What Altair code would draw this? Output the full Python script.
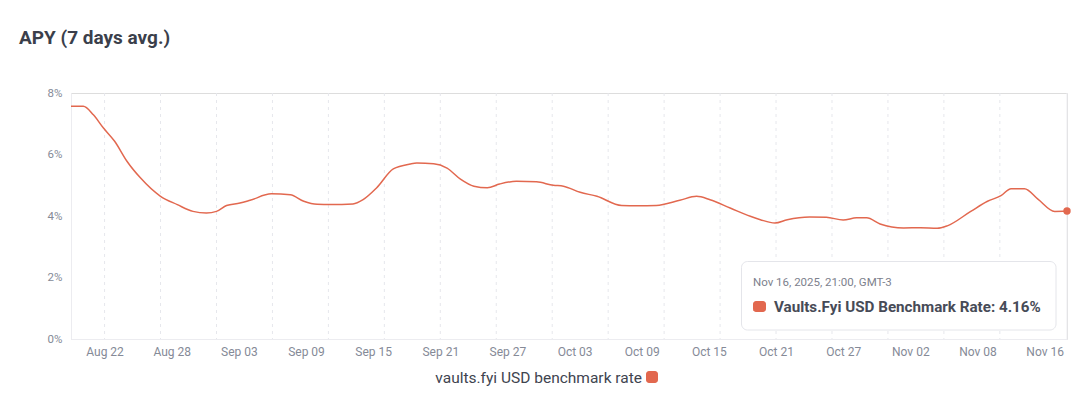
import altair as alt
import pandas as pd

# ---- data ----
# x = days since Aug 19, 2025 ; y = APY in %
days = [0, 1.1, 2.0, 2.9, 3.9, 5.0, 6.2, 8.0, 9.5, 10.9, 12.1, 13.0, 13.9, 15.1,
        16.0, 17.9, 19.6, 20.8, 22.0, 23.2, 25.2, 26.1, 27.3, 28.8, 30.3, 30.9,
        32.4, 33.6, 34.8, 36.0, 37.2, 38.3, 39.8, 41.6, 43.1, 44.0, 45.5, 47.0,
        49.2, 50.6, 52.3, 54.4, 55.9, 57.1, 58.9, 60.7, 61.6, 62.9, 64.0, 66.0,
        67.5, 69.0, 70.2, 71.1, 72.3, 74.4, 75.9, 77.4, 78.3, 80.4, 81.9, 83.1,
        84.0, 85.2, 86.4, 87.9, 89.0]
apy = [7.57, 7.57, 7.29, 6.86, 6.43, 5.78, 5.24, 4.64, 4.37, 4.15, 4.10, 4.15, 4.34, 4.42,
       4.51, 4.72, 4.69, 4.48, 4.38, 4.37, 4.39, 4.53, 4.91, 5.53, 5.69, 5.72,
       5.70, 5.56, 5.20, 4.97, 4.92, 5.04, 5.13, 5.11, 5.00, 4.97, 4.77, 4.64,
       4.34, 4.33, 4.34, 4.51, 4.64, 4.53, 4.26, 3.99, 3.88, 3.77, 3.88, 3.97,
       3.96, 3.87, 3.94, 3.94, 3.74, 3.61, 3.62, 3.60, 3.68, 4.15, 4.48, 4.66,
       4.89, 4.89, 4.55, 4.15, 4.16]
assert len(days) == len(apy)

tick_days = [3, 9, 15, 21, 27, 33, 39, 45, 51, 57, 63, 69, 75, 81, 87]
tick_labels = ["Aug 22", "Aug 28", "Sep 03", "Sep 09", "Sep 15", "Sep 21", "Sep 27",
               "Oct 03", "Oct 09", "Oct 15", "Oct 21", "Oct 27", "Nov 02", "Nov 08", "Nov 16"]
grid_days = [3, 8, 13, 18, 23, 28, 33, 38, 43, 48, 53, 58, 63, 68, 73, 78, 83]
y_ticks = [0, 2, 4, 6, 8]

title_text = "APY (7 days avg.)"
series_name = "vaults.fyi USD benchmark rate"
tooltip_date = "Nov 16, 2025, 21:00, GMT-3"
tooltip_label = "Vaults.Fyi USD Benchmark Rate: 4.16%"

LINE = "#e2684f"
FONT = "Roboto"
W, H = 996, 246

df = pd.DataFrame({"day": days, "apy": apy})
grid_df = pd.DataFrame({"day": grid_days})
last_df = df.tail(1)
one = pd.DataFrame({"k": [0]})

label_expr = "".join(
    f"datum.value == {d} ? '{l}' : " for d, l in zip(tick_days, tick_labels)
) + "''"

xscale = alt.Scale(domain=[0, 89], nice=False, zero=False)
yscale = alt.Scale(domain=[0, 8], nice=False)

grid = alt.Chart(grid_df).mark_rule(color="#e6e7ec", strokeDash=[3, 4], strokeWidth=1).encode(
    x=alt.X("day:Q", scale=xscale)
)

line = alt.Chart(df).mark_line(color=LINE, strokeWidth=1.5, interpolate="monotone").encode(
    x=alt.X("day:Q", scale=xscale,
            axis=alt.Axis(values=tick_days, labelExpr=label_expr, title=None, grid=False,
                          ticks=False, labelPadding=7, labelFontSize=12,
                          labelColor="#858a97", labelFont=FONT, domainColor="#ececf0")),
    y=alt.Y("apy:Q", scale=yscale,
            axis=alt.Axis(values=y_ticks, labelExpr="datum.value + '%'", title=None, grid=False,
                          ticks=False, labelPadding=9, labelFontSize=11.5,
                          labelColor="#858a97", labelFont=FONT, domainColor="#ececf0")),
)

right_edge = alt.Chart(one).mark_rule(color="#ececf0").encode(
    x=alt.value(W), y=alt.value(0), y2=alt.value(H)
)

end_dot = alt.Chart(last_df).mark_circle(color=LINE, size=55, opacity=1).encode(
    x=alt.X("day:Q", scale=xscale), y=alt.Y("apy:Q", scale=yscale)
)

title = alt.Chart(one).mark_text(
    text=title_text, align="left", baseline="alphabetic", font=FONT,
    fontSize=19, fontWeight="bold", color="#3b3f4b"
).encode(x=alt.value(-52), y=alt.value(-49))

tip_box = alt.Chart(one).mark_rect(
    fill="white", stroke="#e4e5ea", strokeWidth=1, cornerRadius=6
).encode(x=alt.value(670.5), x2=alt.value(985), y=alt.value(168.5), y2=alt.value(237))

tip_date = alt.Chart(one).mark_text(
    text=tooltip_date, align="left", baseline="middle", font=FONT,
    fontSize=11.5, color="#7d818d"
).encode(x=alt.value(682), y=alt.value(190))

tip_sq = alt.Chart(one).mark_rect(fill=LINE, cornerRadius=3).encode(
    x=alt.value(682), x2=alt.value(695), y=alt.value(208), y2=alt.value(219)
)

tip_text = alt.Chart(one).mark_text(
    text=tooltip_label, align="left", baseline="middle", font=FONT,
    fontSize=15.2, fontWeight="bold", color="#474b57"
).encode(x=alt.value(703), y=alt.value(214))

leg_text = alt.Chart(one).mark_text(
    text=series_name, align="right", baseline="alphabetic", font=FONT,
    fontSize=15.5, color="#40444f"
).encode(x=alt.value(571), y=alt.value(290))

leg_sq = alt.Chart(one).mark_rect(fill=LINE, cornerRadius=3).encode(
    x=alt.value(575), x2=alt.value(587), y=alt.value(278), y2=alt.value(290)
)

chart = alt.layer(
    grid, right_edge, line, end_dot, title, tip_box, tip_date, tip_sq, tip_text, leg_text, leg_sq
).properties(
    width=W, height=H,
    autosize=alt.AutoSizeParams(type="none"),
    padding={"left": 63, "top": 85, "right": 9, "bottom": 50},
).configure_view(stroke=None).configure(background="white")

chart.save("out.html", embed_options={"renderer": "svg", "actions": False})
